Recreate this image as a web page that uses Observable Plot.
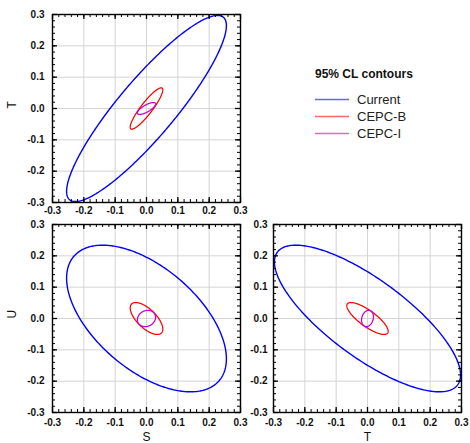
<!DOCTYPE html>
<html>
<head>
<meta charset="utf-8">
<script src="https://cdn.jsdelivr.net/npm/d3@7"></script>
<script src="https://cdn.jsdelivr.net/npm/@observablehq/plot@0.6"></script>
<style>
  html, body { margin: 0; padding: 0; background: #fff; }
  #wrap { position: relative; width: 470px; height: 443px; overflow: hidden; font-family: "Liberation Sans", Arial, sans-serif; }
  #wrap > svg, #wrap > div { position: absolute; }
</style>
</head>
<body>
<div id="wrap"></div>
<script>
// ---- data ----
const series = ["Current", "CEPC-B", "CEPC-I"];
const seriesColors = ["#0000ff", "#ff0000", "#cc00cc"];
// half-extents of the 95% CL contours along each oblique parameter
const halfS = [0.255, 0.052, 0.029];
const halfT = [0.297, 0.066, 0.019];
const halfU = [0.234, 0.051, 0.026];
// correlation of each pair
const rhoST = [0.89, 0.90, 0.75];
const rhoSU = [-0.55, -0.66, 0.15];
const rhoTU = [-0.77, -0.80, 0.20];
const majorTicks = [-0.3, -0.2, -0.1, 0, 0.1, 0.2, 0.3];
const tickLabels = ["-0.3", "-0.2", "-0.1", "0.0", "0.1", "0.2", "0.3"];
const legendTitle = "95% CL contours";

const minorTicks = d3.range(-15, 16).map(i => i / 50);
const FONT = "Liberation Sans, Arial, Helvetica, sans-serif";
const FRAME = 188; // plot area size in px

// contour outline from half-extents and correlation
function contour(hx, hy, rho, name) {
  const n = 360, pts = [];
  const s = Math.sqrt(1 - rho * rho);
  for (let k = 0; k <= n; k++) {
    const t = (2 * Math.PI * k) / n;
    pts.push({series: name, x: hx * Math.cos(t), y: hy * (rho * Math.cos(t) + s * Math.sin(t))});
  }
  return pts;
}

function inwardTicks(values, len, sw) {
  const o = {stroke: "#000", strokeWidth: sw};
  return [
    Plot.tickX(values, {x: d => d, insetTop: FRAME - len, ...o}),
    Plot.tickX(values, {x: d => d, insetBottom: FRAME - len, ...o}),
    Plot.tickY(values, {y: d => d, insetRight: FRAME - len, ...o}),
    Plot.tickY(values, {y: d => d, insetLeft: FRAME - len, ...o})
  ];
}

function panel({hx, hy, rho, width, height, ml, mr, mt, mb, xPad, yPad, xLabel, xLabelDy, yLabel, yLabelDx}) {
  const lineMarks = series.map((name, i) =>
    Plot.line(contour(hx[i], hy[i], rho[i], name), {
      x: "x", y: "y", stroke: "series",
      strokeWidth: i === 0 ? 1.4 : 1.25, curve: "linear"
    })
  );
  const fmt = d => tickLabels[majorTicks.indexOf(d)];
  const marks = [
    Plot.gridX(majorTicks, {stroke: "#d4d4d4", strokeOpacity: 1, strokeWidth: 1}),
    Plot.gridY(majorTicks, {stroke: "#d4d4d4", strokeOpacity: 1, strokeWidth: 1}),
    ...lineMarks,
    ...inwardTicks(minorTicks, 3, 1),
    ...inwardTicks(majorTicks, 5, 1.3),
    Plot.frame({stroke: "#000", strokeWidth: 1.4}),
    Plot.axisX({anchor: "bottom", ticks: majorTicks, tickSize: 0, tickPadding: xPad, tickFormat: fmt,
      label: null, fontWeight: "bold", fontSize: 10, fill: "#111"}),
    Plot.axisY({anchor: "left", ticks: majorTicks, tickSize: 0, tickPadding: yPad, tickFormat: fmt,
      label: null, fontWeight: "bold", fontSize: 10, fill: "#111"})
  ];
  if (xLabel) marks.push(Plot.text([xLabel], {frameAnchor: "bottom", dy: xLabelDy, lineAnchor: "bottom", fontSize: 12, fill: "#111"}));
  if (yLabel) marks.push(Plot.text([yLabel], {frameAnchor: "left", dx: yLabelDx, rotate: -90, fontSize: 12, fill: "#111"}));
  return Plot.plot({
    width, height,
    marginLeft: ml, marginRight: mr, marginTop: mt, marginBottom: mb,
    x: {domain: [-0.3, 0.3]},
    y: {domain: [-0.3, 0.3]},
    color: {domain: series, range: seriesColors},
    style: {fontFamily: FONT, background: "transparent", overflow: "visible"},
    marks
  });
}

const wrap = document.getElementById("wrap");

const p1 = panel({hx: halfS, hy: halfT, rho: rhoST, width: 250, height: 222, ml: 52, mr: 10, mt: 14, mb: 20,
  xPad: 4, yPad: 8, yLabel: "T", yLabelDx: -40});
p1.style.left = "0px"; p1.style.top = "0px";
wrap.appendChild(p1);

const p2 = panel({hx: halfS, hy: halfU, rho: rhoSU, width: 250, height: 221, ml: 52, mr: 10, mt: 2, mb: 31,
  xPad: 6, yPad: 8, xLabel: "S", xLabelDy: 28, yLabel: "U", yLabelDx: -40});
p2.style.left = "0px"; p2.style.top = "222px";
wrap.appendChild(p2);

const p3 = panel({hx: halfT, hy: halfU, rho: rhoTU, width: 220, height: 221, ml: 23, mr: 9, mt: 2, mb: 31,
  xPad: 6, yPad: 6, xLabel: "T", xLabelDy: 28});
p3.style.left = "250px"; p3.style.top = "222px";
wrap.appendChild(p3);

// legend
const leg = d3.create("svg").attr("width", 160).attr("height", 90)
  .style("left", "305px").style("top", "60px").style("font-family", FONT);
leg.append("text").attr("x", 10).attr("y", 17.5).attr("font-size", 12).attr("font-weight", "bold")
  .attr("fill", "#111").text(legendTitle);
series.forEach((name, i) => {
  const y = 39.5 + i * 17;
  leg.append("line").attr("x1", 10).attr("x2", 44).attr("y1", y).attr("y2", y)
    .attr("stroke", seriesColors[i]).attr("stroke-width", 1.5).attr("stroke-opacity", 0.6);
  leg.append("text").attr("x", 52).attr("y", y + 4.5).attr("font-size", 13).attr("fill", "#222").text(name);
});
wrap.appendChild(leg.node());
</script>
</body>
</html>
